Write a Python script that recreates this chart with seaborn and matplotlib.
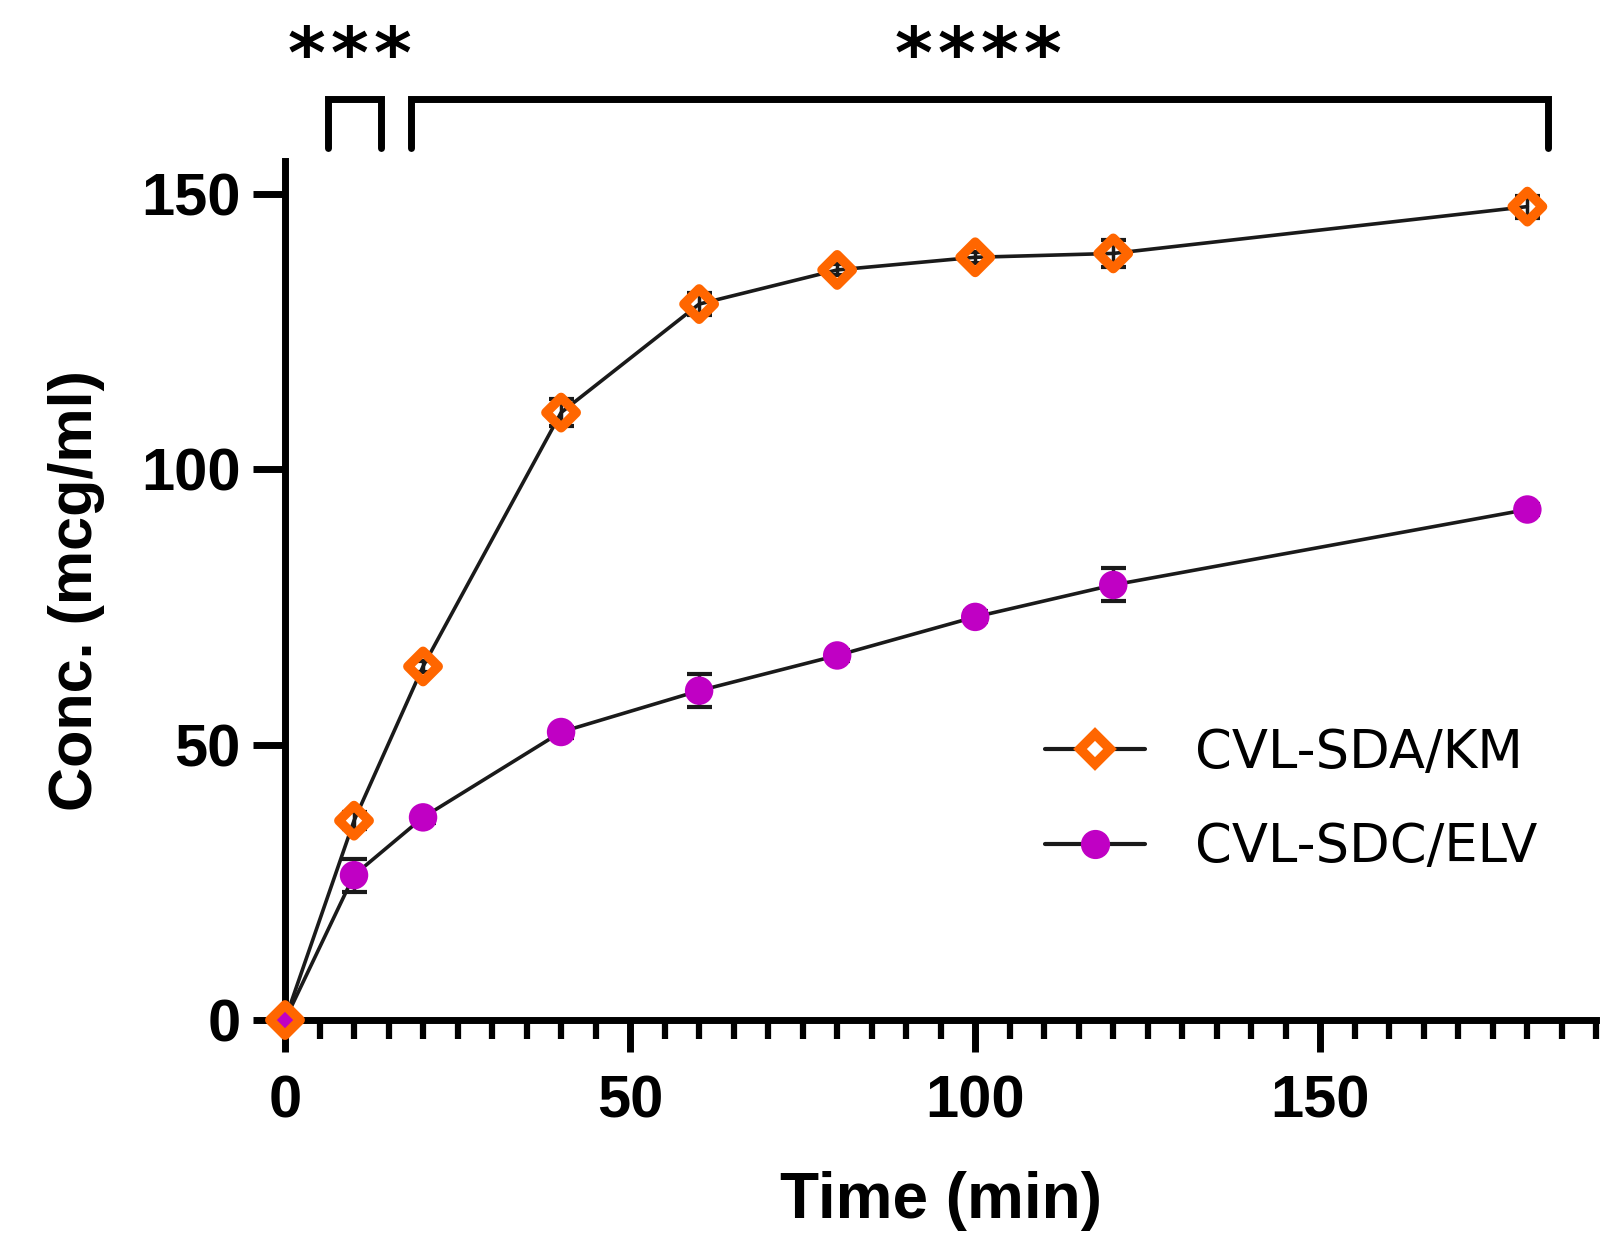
import seaborn as sns
import matplotlib.pyplot as plt
import pandas as pd
import numpy as np
from matplotlib.lines import Line2D

# datos
time_min = [0, 10, 20, 40, 60, 80, 100, 120, 180]
sda_km = [0, 36.2, 64.2, 110.3, 130.0, 136.2, 138.5, 139.2, 147.7]
sda_km_err = [0.5, 1.5, 1.0, 2.5, 2.0, 1.0, 1.0, 2.5, 2.0]
sdc_elv = [0, 26.3, 36.8, 52.3, 59.8, 66.2, 73.2, 79.0, 92.7]
sdc_elv_err = [0.5, 3.0, 1.0, 1.0, 3.0, 1.0, 1.0, 3.0, 1.0]
series_names = ['CVL-SDA/KM', 'CVL-SDC/ELV']

# anotaciones de significancia: (x_ini, x_fin, texto, x_texto)
brackets = [(6.2, 13.9, '***', 9.4), (18.3, 183.0, '****', 100.4)]

orange = '#FF6600'
purple = '#C000C4'
line_col = '#1a1a1a'

df = pd.DataFrame({
    'time': time_min * 2,
    'conc': sda_km + sdc_elv,
    'err': sda_km_err + sdc_elv_err,
    'serie': [series_names[0]] * len(time_min) + [series_names[1]] * len(time_min),
})

sns.set_style('ticks')
plt.rcParams['font.family'] = ['Liberation Sans', 'DejaVu Sans']
plt.rcParams['text.color'] = 'black'
plt.rcParams['axes.labelcolor'] = 'black'
plt.rcParams['xtick.color'] = 'black'
plt.rcParams['ytick.color'] = 'black'

fig = plt.figure(figsize=(16.23, 12.59), dpi=100)
ax = fig.add_axes([0.1756, 0.1898, 0.808, 0.6824])

# barras de error
for name in series_names:
    sub = df[df['serie'] == name]
    ax.errorbar(sub['time'], sub['conc'], yerr=sub['err'], fmt='none',
                ecolor=line_col, elinewidth=2.5, capsize=9, capthick=3, zorder=2)

sns.lineplot(data=df, x='time', y='conc', hue='serie',
             palette={series_names[0]: line_col, series_names[1]: line_col},
             markers=False, dashes=False, linewidth=2.6, legend=False, ax=ax, zorder=3)

# marcadores
sub_a = df[df['serie'] == series_names[0]]
sub_b = df[df['serie'] == series_names[1]]
ax.scatter(sub_b['time'], sub_b['conc'], s=420, color=purple, edgecolor='none',
           zorder=4, clip_on=False)
ax.scatter(sub_a['time'], sub_a['conc'], s=235, marker='D', facecolor='none',
           edgecolor=orange, linewidth=7, zorder=5, clip_on=False)

ax.set_xlim(0, 190)
ax.set_ylim(0, 156)
ax.set_xticks([0, 50, 100, 150])
ax.set_xticks(np.arange(0, 191, 5), minor=True)
ax.set_yticks([0, 50, 100, 150])
ax.set_xlabel('')
ax.set_ylabel('')

for side in ['top', 'right']:
    ax.spines[side].set_visible(False)
for side in ['left', 'bottom']:
    ax.spines[side].set_linewidth(5)
    ax.spines[side].set_color('black')

ax.tick_params(axis='both', which='major', length=23, width=5, direction='out',
               labelsize=43)
ax.tick_params(axis='y', which='major', pad=9)
ax.tick_params(axis='x', which='major', pad=16)
ax.tick_params(axis='x', which='minor', length=14, width=4.5, direction='out')
for lab in ax.get_xticklabels() + ax.get_yticklabels():
    lab.set_fontweight('bold')

ax.set_xlabel('Time (min)', fontsize=46, fontweight='bold', labelpad=30)
ax.set_ylabel('Conc. (mcg/ml)', fontsize=44, fontweight='bold', labelpad=26)

# corchetes de significancia
star_gap = 31
for x0, x1, txt, xt in brackets:
    ax.plot([x0, x0, x1, x1], [158.3, 167.2, 167.2, 158.3], color='black',
            linewidth=5, clip_on=False, solid_joinstyle='miter')
    n = len(txt)
    for i, ch in enumerate(txt):
        ax.annotate(ch, xy=(xt, 171), xytext=((i - (n - 1) / 2) * star_gap, 0),
                    textcoords='offset points', ha='center', va='baseline',
                    fontsize=52, fontweight='bold', family='DejaVu Sans',
                    annotation_clip=False)

handles = [
    Line2D([0], [0], color=line_col, linewidth=3, marker='D', markersize=15,
           markerfacecolor='white', markeredgecolor=orange, markeredgewidth=7),
    Line2D([0], [0], color=line_col, linewidth=3, marker='o', markersize=20,
           markerfacecolor=purple, markeredgecolor=purple),
]
leg = ax.legend(handles, series_names, loc='center left',
                bbox_to_anchor=(1045 / 1623, 1 - 800 / 1259),
                bbox_transform=fig.transFigure, frameon=False,
                prop={'family': 'DejaVu Sans', 'size': 38},
                handlelength=1.9, handletextpad=0.95, labelspacing=0.8,
                borderpad=0, borderaxespad=0)

fig.savefig('out.png', dpi=100)
